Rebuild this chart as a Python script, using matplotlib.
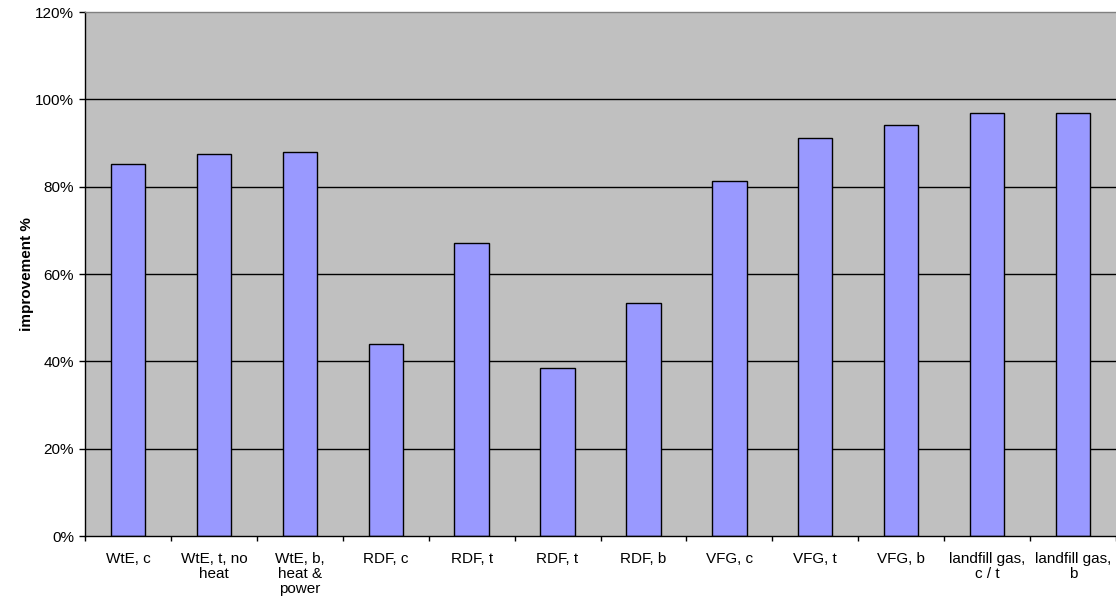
import numpy as np
import matplotlib
matplotlib.use("Agg")
import matplotlib.pyplot as plt
from matplotlib.ticker import FuncFormatter

plt.rcParams['font.family'] = ['Liberation Sans', 'DejaVu Sans']

labels = ["WtE, c", "WtE, t, no\nheat", "WtE, b,\nheat &\npower", "RDF, c", "RDF, t",
          "RDF, t", "RDF, b", "VFG, c", "VFG, t", "VFG, b",
          "landfill gas,\nc / t", "landfill gas,\nb"]
improvement = [85.3, 87.5, 87.9, 44.0, 67.0, 38.4, 53.4, 81.3, 91.1, 94.1, 96.9, 96.9]
yticks = [0, 20, 40, 60, 80, 100, 120]

fig = plt.figure(figsize=(11.16, 6.10), dpi=100)
ax = fig.add_axes([85/1116, 1-536/610, 1-85/1116, (536-12)/610])
ax.set_facecolor("#C0C0C0")

x = np.arange(len(labels))
ax.set_axisbelow(True)
for v in yticks[1:-1]:
    ax.axhline(v, color="black", lw=1, zorder=0)
ax.bar(x, improvement, width=0.4, color="#9999FF", edgecolor="black", linewidth=1, zorder=2)

ax.set_xlim(-0.5, len(labels) - 0.5)
ax.set_ylim(0, 120)
ax.set_yticks(yticks)
ax.yaxis.set_major_formatter(FuncFormatter(lambda v, p: "%d%%" % v))
ax.tick_params(axis="y", length=4, width=1, labelsize=11, pad=4, color="black")

ax.set_xticks(x)
ax.set_xticklabels(labels, fontsize=11, linespacing=1.1, va="top")
ax.set_xticks(np.arange(-0.5, len(labels)), minor=True)
ax.tick_params(axis="x", which="major", length=0, pad=11.5)
ax.tick_params(axis="x", which="minor", length=3.6, width=1, color="black")

for s in ["left", "bottom"]:
    ax.spines[s].set_color("black")
    ax.spines[s].set_linewidth(1)
ax.spines["top"].set_color("#808080")
ax.spines["top"].set_linewidth(1)
ax.spines["right"].set_visible(False)

ax.set_ylabel("improvement %", fontsize=11, fontweight="bold", labelpad=1)

fig.savefig("out.png", dpi=100)
